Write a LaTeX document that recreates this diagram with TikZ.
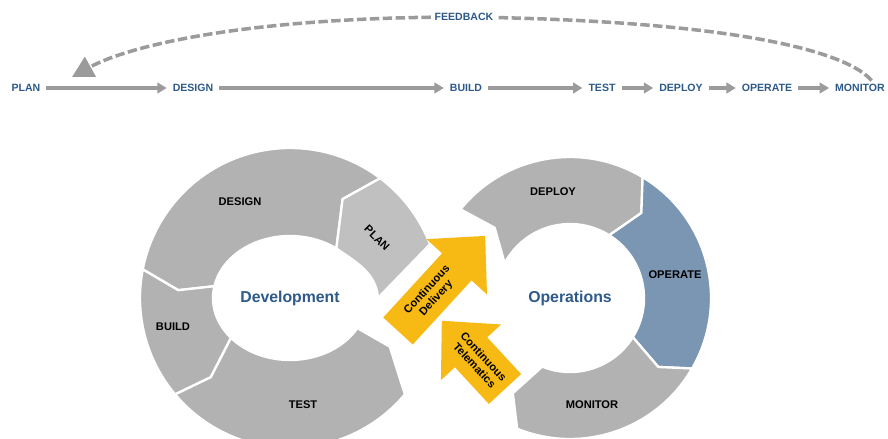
\documentclass[tikz,border=0pt]{standalone}
\usepackage{fontspec}
\setmainfont{Liberation Sans}
\usetikzlibrary{arrows.meta,positioning}
\definecolor{stageblue}{RGB}{45,90,138}
\definecolor{flowgray}{RGB}{155,155,155}
\definecolor{ringgray}{RGB}{178,178,178}
\definecolor{plangray}{RGB}{192,192,192}
\definecolor{opblue}{RGB}{122,150,178}
\definecolor{cdyellow}{RGB}{247,185,20}
\tikzset{
	x=0.03cm, y=0.03cm, % one unit is one pixel of the layout
	stage/.style={font=\bfseries\fontsize{9}{10}\selectfont, text=stageblue, inner sep=3pt},
	flow/.style={draw=flowgray, line width=2.6pt, -{Triangle[length=8pt,width=9pt]}, shorten <=2pt, shorten >=2pt},
	feedback/.style={draw=flowgray, line width=3pt, dash pattern=on 8pt off 3pt, -{Triangle[length=18pt,width=19pt]}},
	seg/.style={fill=ringgray, draw=white, line width=2pt, line join=round},
	seglabel/.style={font=\bfseries\fontsize{9.5}{10}\selectfont},
	ringtitle/.style={font=\bfseries\fontsize{13.5}{15}\selectfont, text=stageblue},
	pipe/.style={fill=cdyellow},
	pipetext/.style={font=\bfseries\fontsize{9.5}{10.5}\selectfont, align=center, inner sep=0pt},
}

\begin{document}
\begin{tikzpicture}
	\useasboundingbox (0,0) rectangle (888,438);
	\clip (0,0) rectangle (888,438);

	% development loop
	\begin{scope}[shift={(290,140)}]
		\draw[seg] (53:150) arc[start angle=53, end angle=169, radius=150] -- (176:112) -- (169:77 and 62) arc[start angle=169, end angle=53, x radius=77, y radius=62] -- (62:112) -- cycle;
		\draw[seg] (169:150) arc[start angle=169, end angle=220, radius=150] -- (225:112) -- (220:77 and 62) arc[start angle=220, end angle=169, x radius=77, y radius=62] -- (176:112) -- cycle;
		\draw[seg] (220:150) arc[start angle=220, end angle=320, radius=150] -- (334:111) -- (331:77 and 62) arc[start angle=331, end angle=220, x radius=77, y radius=62] -- (225:112) -- cycle;
		\draw[seg, fill=plangray] (53:150) arc[start angle=53, end angle=21, radius=150] -- (0:88) to[out=95, in=-35] (53:77 and 62) -- (62:112) -- cycle;
		\node[seglabel] (ddesign) at (-50,96) {DESIGN};
		\node[seglabel] (dbuild) at (-117,-29) {BUILD};
		\node[seglabel] (dtest) at (13,-107) {TEST};
		\node[seglabel, rotate=-45] (dplan) at (87,60) {PLAN};
		\node[ringtitle] (dev) at (0,0) {Development};
	\end{scope}

	% operations loop
	\begin{scope}[shift={(570,140)}]
		\draw[seg] (141:141) arc[start angle=141, end angle=59, radius=141] -- (50:111) -- (58:74) arc[start angle=58, end angle=152, radius=74] -- (137:103) -- cycle;
		\draw[seg, fill=opblue] (59:141) arc[start angle=59, end angle=-30, radius=141] -- (-38:112) -- (-32:74) arc[start angle=-32, end angle=58, radius=74] -- (50:111) -- cycle;
		\draw[seg] (-30:141) arc[start angle=-30, end angle=-112, radius=141] -- (-121:111) -- (-112:74) arc[start angle=-112, end angle=-32, radius=74] -- (-38:112) -- cycle;
		\node[seglabel] (odeploy) at (-17,106) {DEPLOY};
		\node[seglabel] (ooperate) at (105,23) {OPERATE};
		\node[seglabel] (omonitor) at (22,-107) {MONITOR};
		\node[ringtitle] (ops) at (0,0) {Operations};
	\end{scope}

	% the two crossings
	\begin{scope}[shift={(398,107)}, rotate=47.5]
		\fill[pipe] (0,-20) -- (87,-20) -- (87,-41) -- (129,0) -- (87,41) -- (87,20) -- (0,20) -- cycle;
		\node[pipetext, rotate=47.5] (delivery) at (50,0) {Continuous\\Delivery};
	\end{scope}
	\begin{scope}[shift={(505,49)}, rotate=132.8]
		\fill[pipe] (0,-22) -- (50,-22) -- (50,-41) -- (93,0) -- (50,41) -- (50,22) -- (0,22) -- cycle;
		\node[pipetext, rotate=-47.2] (telematics) at (38,0) {Continuous\\Telematics};
	\end{scope}

	% waterfall row
	\node[stage] (plan) at (26,350) {PLAN};
	\node[stage, on grid, right=167 of plan] (design) {DESIGN};
	\node[stage, on grid, right=273 of design] (build) {BUILD};
	\node[stage, on grid, right=136 of build] (test) {TEST};
	\node[stage, on grid, right=79 of test] (deploy) {DEPLOY};
	\node[stage, on grid, right=86 of deploy] (operate) {OPERATE};
	\node[stage, on grid, right=93 of operate] (monitor) {MONITOR};

	\draw[flow] (plan) -- (design);
	\draw[flow] (design) -- (build);
	\draw[flow] (build) -- (test);
	\draw[flow] (test) -- (deploy);
	\draw[flow] (deploy) -- (operate);
	\draw[flow] (operate) -- (monitor);

	% feedback
	\coordinate (fbtop) at (464,421);
	\coordinate (fbend) at (72,361);
	\draw[feedback] ([xshift=10]monitor.north) .. controls (840,393) and (700,418) .. (fbtop) .. controls (250,421) and (130,393) .. (fbend);
	\node[stage, fill=white] (fb) at (fbtop) {FEEDBACK};
\end{tikzpicture}
\end{document}
